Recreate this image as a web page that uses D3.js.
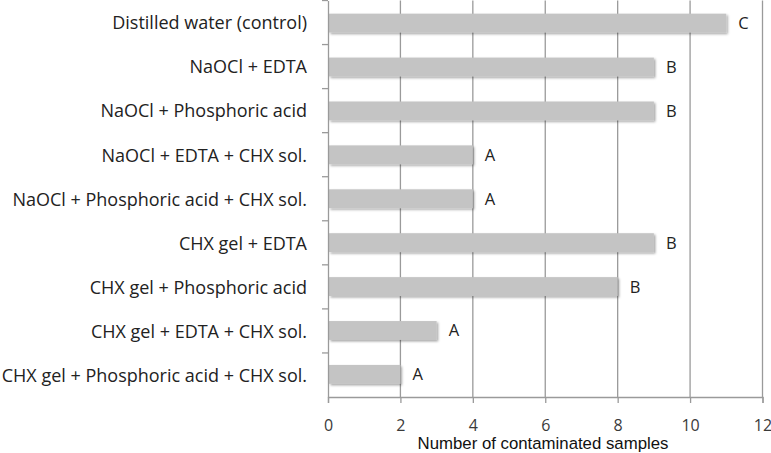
<!DOCTYPE html>
<html>
<head>
<meta charset="utf-8">
<script src="https://cdn.jsdelivr.net/npm/d3@7"></script>
<style>
  body { margin: 0; background: #fff; }
</style>
</head>
<body>
<div id="vis-container"></div>
<script>
// chart data
var groups = [
  "Distilled water (control)",
  "NaOCl + EDTA",
  "NaOCl + Phosphoric acid",
  "NaOCl + EDTA + CHX sol.",
  "NaOCl + Phosphoric acid + CHX sol.",
  "CHX gel + EDTA",
  "CHX gel + Phosphoric acid",
  "CHX gel + EDTA + CHX sol.",
  "CHX gel + Phosphoric acid + CHX sol."
];
var contaminated = [11, 9, 9, 4, 4, 9, 8, 3, 2];
var letters = ["C", "B", "B", "A", "A", "B", "B", "A", "A"];
var xTicks = [0, 2, 4, 6, 8, 10, 12];

var width = 771, height = 453;
var plot = { left: 328, right: 762.5, top: 0.5, bottom: 397 };

var svg = d3
  .select("#vis-container")
  .append("svg")
  .attr("width", width)
  .attr("height", height);

// soft shadow under the bars
var filter = svg.append("defs").append("filter")
  .attr("id", "shadow")
  .attr("x", "-5%").attr("y", "-30%")
  .attr("width", "115%").attr("height", "190%");
filter.append("feDropShadow")
  .attr("dx", 1.5).attr("dy", 1.5)
  .attr("stdDeviation", 1.3)
  .attr("flood-color", "#000")
  .attr("flood-opacity", 0.35);

var x = d3.scaleLinear().domain([0, 12]).range([plot.left, plot.right]);
var y = d3.scaleBand().domain(groups).range([plot.top, plot.bottom]).paddingInner(0.57).paddingOuter(0.3);
var yOuter = d3.scaleBand().domain(groups).range([plot.top, plot.bottom]);

// vertical grid lines
svg.append("g")
  .selectAll("line")
  .data(xTicks.slice(1))
  .enter()
  .append("line")
  .attr("x1", (d) => x(d))
  .attr("x2", (d) => x(d))
  .attr("y1", plot.top)
  .attr("y2", plot.bottom)
  .attr("stroke", "#9a9a9a")
  .attr("stroke-width", 1.3);

// bars
svg.append("g")
  .selectAll("rect")
  .data(groups)
  .enter()
  .append("rect")
  .attr("x", x(0) + 1)
  .attr("y", (d) => y(d))
  .attr("width", (d, i) => x(contaminated[i]) - x(0) - 1)
  .attr("height", y.bandwidth())
  .attr("fill", "#c4c4c4")
  .attr("filter", "url(#shadow)");

// significance letters
svg.append("g")
  .selectAll("text")
  .data(groups)
  .enter()
  .append("text")
  .attr("x", (d, i) => x(contaminated[i]) + 12)
  .attr("y", (d) => y(d) + y.bandwidth() / 2)
  .attr("dy", "0.36em")
  .attr("font-family", "'Open Sans', sans-serif")
  .attr("font-size", 16.5)
  .attr("fill", "#222")
  .text((d, i) => letters[i]);

// left axis
var yAxis = svg.append("g")
  .attr("transform", "translate(" + plot.left + ",0)")
  .call(d3.axisLeft(yOuter).tickSize(0).tickPadding(21));
yAxis.select(".domain").attr("stroke", "#9a9a9a").attr("stroke-width", 1.3);
yAxis.selectAll("text")
  .attr("font-family", "'Open Sans', sans-serif")
  .attr("font-size", 18)
  .attr("dy", "0.38em")
  .attr("fill", "#222");
svg.append("g")
  .selectAll("line")
  .data(d3.range(groups.length))
  .enter()
  .append("line")
  .attr("x1", plot.left - 6)
  .attr("x2", plot.left)
  .attr("y1", (d) => yOuter(groups[d]))
  .attr("y2", (d) => yOuter(groups[d]))
  .attr("stroke", "#9a9a9a")
  .attr("stroke-width", 1.3);

// bottom axis
var xAxis = svg.append("g")
  .attr("transform", "translate(0," + plot.bottom + ")")
  .call(d3.axisBottom(x).tickValues(xTicks).tickSize(6).tickPadding(16.5).tickFormat(d3.format("d")));
xAxis.select(".domain").attr("stroke", "#9a9a9a").attr("stroke-width", 1.3);
xAxis.selectAll(".tick line").attr("stroke", "#9a9a9a").attr("stroke-width", 1.3);
xAxis.selectAll("text")
  .attr("font-family", "'Open Sans', sans-serif")
  .attr("font-size", 16)
  .attr("fill", "#3a3a3a");

// axis title
svg.append("text")
  .attr("x", 543)
  .attr("y", 449)
  .attr("text-anchor", "middle")
  .attr("font-family", "'Liberation Sans', Arial, sans-serif")
  .attr("font-size", 16.8)
  .attr("fill", "#111")
  .text("Number of contaminated samples");
</script>
</body>
</html>
